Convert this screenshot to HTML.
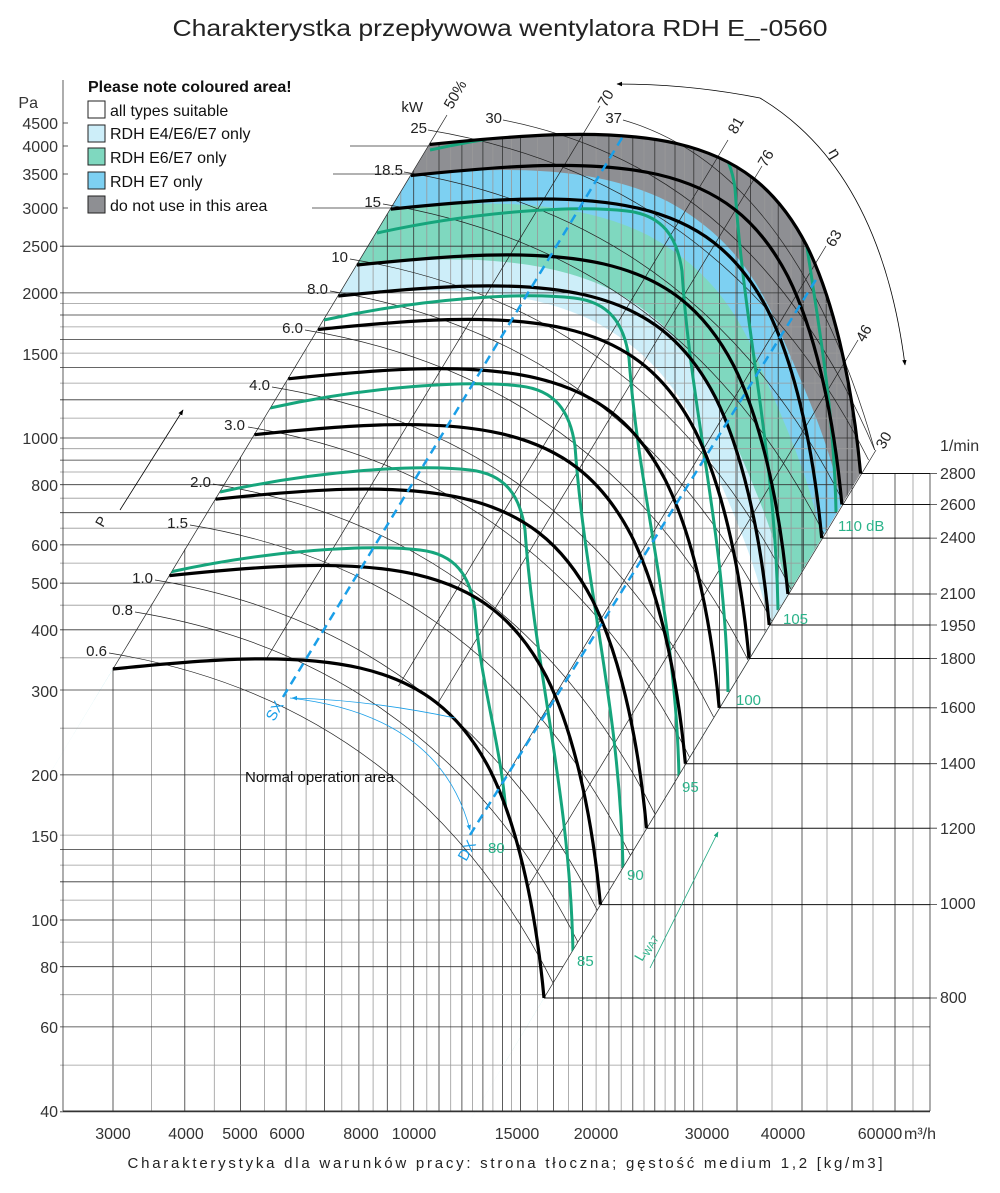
<!DOCTYPE html>
<html><head><meta charset="utf-8">
<style>
html,body{margin:0;padding:0;background:#fff;}
svg{display:block;}
text{font-family:"Liberation Sans",sans-serif;}
.n{font-family:"Liberation Sans Narrow","Liberation Sans",sans-serif;}
</style></head>
<body>
<svg width="1000" height="1193" viewBox="0 0 1000 1193" xmlns="http://www.w3.org/2000/svg">
<defs>
<path id="b" d="M113,669 C200,660 290,652 360,668 C420,682 460,712 490,770 C515,820 535,900 544,998"/>
<path id="f" d="M113,669 C200,660 290,652 360,668 C420,682 460,712 490,770 C515,820 535,900 544,998 L227,1523 L-204,1194 Z"/>
<path id="fb" d="M113,669 C210,659 300,660 370,695 C420,722 455,760 480,820 C505,880 530,930 544,998 L227,1523 L-204,1194 Z"/>
<clipPath id="cc"><path d="M113,669 C200,660 290,652 360,668 C420,682 460,712 490,770 C515,820 535,900 544,998 L860.6,473.5 C851.6,375.5 831.6,295.5 806.6,245.5 C776.6,187.5 736.6,157.5 676.6,143.5 C606.6,127.5 516.6,135.5 429.6,144.5 Z"/></clipPath>
<clipPath id="cv"><path d="M112,1115 L112,669 L429.6,144.5 C516.6,135.5 606.6,127.5 676.6,143.5 C736.6,157.5 776.6,187.5 806.6,245.5 C831.6,295.5 851.6,375.5 860.6,473.5 L940,473.5 L940,1115 Z"/></clipPath>
<clipPath id="ch"><path d="M55,0 L676.6,0 L676.6,143.5 C736.6,157.5 776.6,187.5 806.6,245.5 C831.6,295.5 851.6,375.5 860.6,473.5 L544,998 L930,998 L930,1115 L55,1115 Z"/></clipPath>
<marker id="ab" viewBox="0 0 10 10" refX="9" refY="5" markerWidth="7" markerHeight="7" orient="auto"><path d="M0,1 L10,5 L0,9 z" fill="#000"/></marker>
<marker id="abl" viewBox="0 0 10 10" refX="9" refY="5" markerWidth="7" markerHeight="7" orient="auto"><path d="M0,1 L10,5 L0,9 z" fill="#1a9fe8"/></marker>
<marker id="abg" viewBox="0 0 10 10" refX="9" refY="5" markerWidth="7" markerHeight="7" orient="auto"><path d="M0,1 L10,5 L0,9 z" fill="#1aa67f"/></marker>
</defs>
<rect width="1000" height="1193" fill="#fff"/>

<!-- bands -->
<use href="#f" transform="translate(316.6,-524.5)" fill="#8e8f93"/>
<use href="#fb" transform="translate(297.9,-493.5)" fill="#7dd0f2"/>
<use href="#fb" transform="translate(277.7,-459.9)" fill="#7fd8bf"/>
<use href="#fb" transform="translate(243.9,-404)" fill="#cdeef9"/>
<use href="#fb" transform="translate(225.2,-373)" fill="#fff"/>

<!-- grid verticals (x <= 703 everywhere) -->
<g clip-path="url(#cv)" fill="none" stroke-width="0.8">
<path stroke="#333" d="M113,100V1111M184.8,100V1111M240.6,100V1111M286.1,100V1111M324.6,100V1111M358.9,100V1111M387.3,100V1111M413.7,100V1111M439,100V1111M461.9,100V1111M482.9,100V1111M502.4,100V1111M520.5,100V1111M553.4,100V1111M582.6,100V1111M608.9,100V1111M632.8,100V1111M654.8,100V1111M675,100V1111M693.8,100V1111"/>
<path stroke="#999" d="M151.5,100V1111M214.3,100V1111M264.4,100V1111M306.1,100V1111M341.8,100V1111M373.1,100V1111M400.8,100V1111M426.8,100V1111M450.7,100V1111M472.6,100V1111M492.9,100V1111M511.6,100V1111M537.5,100V1111M568.4,100V1111M596.1,100V1111M621.2,100V1111M644,100V1111M665.1,100V1111M684.5,100V1111M702.7,100V1111"/>
<!-- sparse verticals right side -->
<path stroke="#333" d="M737,100V1111M802,100V1111M852,100V1111M895,100V1111"/>
<path stroke="#999" d="M772,100V1111M827,100V1111M873,100V1111M913,100V1111"/>
</g>
<!-- dense verticals inside chart only for x>703 -->
<g clip-path="url(#cc)" fill="none" stroke-width="0.8">
<path stroke="#333" d="M719.6,100V1111M750.6,100V1111M778.2,100V1111M803.3,100V1111M826.2,100V1111M847.2,100V1111"/>
<path stroke="#999" d="M735.5,100V1111M764.8,100V1111M791.1,100V1111M815,100V1111M836.9,100V1111M857.1,100V1111"/>
</g>
<!-- grid horizontals -->
<g clip-path="url(#ch)" fill="none" stroke-width="0.8">
<path stroke="#333" d="M60,1111.8H930M60,1026.9H930M60,966.7H930M60,920H930M60,881.8H930M60,849.6H930M60,774.9H930M60,690H930M60,629.8H930M60,583.1H930M60,544.9H930M60,512.7H930M60,484.7H930M60,460.1H930M60,438H930M60,399.8H930M60,367.6H930M60,339.6H930M60,315H930M60,292.9H930M60,246.2H930"/>
<path stroke="#999" d="M60,1065.1H930M60,994.7H930M60,942.1H930M60,900.1H930M60,865.1H930M60,835.1H930M60,728.2H930M60,657.8H930M60,605.2H930M60,563.1H930M60,528.2H930M60,498.2H930M60,472H930M60,448.7H930M60,418.1H930M60,383.1H930M60,353.1H930M60,326.9H930M60,303.6H930"/>
</g>
<line x1="63" y1="1111" x2="930" y2="1111" stroke="#333" stroke-width="1"/>
<line x1="930" y1="473.5" x2="930" y2="1111" stroke="#333" stroke-width="0.8"/>
<!-- rpm rows -->
<path fill="none" stroke="#111" stroke-width="1" d="M544,998H930M600.4,904.6H930M646.5,828.2H930M685.4,763.7H930M719.2,707.8H930M749,658.5H930M769.2,625H930M787.9,594H930M821.7,538.1H930M841.9,504.5H930M860.6,473.5H930"/>
<path fill="none" stroke="#333" stroke-width="0.8" d="M930,998H937M930,904.6H937M930,828.2H937M930,763.7H937M930,707.8H937M930,658.5H937M930,625H937M930,594H937M930,538.1H937M930,504.5H937M930,473.5H937"/>

<!-- thin lines: diagonals, eta, kW arcs -->
<g fill="none" stroke="#222" stroke-width="0.7">
<line x1="113" y1="669" x2="447" y2="115"/>
<line x1="544" y1="998" x2="876" y2="450"/>
<line x1="600" y1="106" x2="266.9" y2="658"/>
<line x1="728" y1="140" x2="398.5" y2="686"/>
<line x1="762" y1="166" x2="436.8" y2="705"/>
<line x1="826" y1="246" x2="497.8" y2="790"/>
<line x1="858" y1="340" x2="526.7" y2="889"/>
<path d="M109,653Q411,702.5 553.1,983"/>
<path d="M135,612Q436.1,661.5 577.8,942"/>
<path d="M155,580Q455.6,629.5 597.1,910"/>
<path d="M190,525Q489.4,574.5 630.3,855"/>
<path d="M213,484Q513.6,533.5 655,814"/>
<path d="M248,427Q548.2,476.5 689.4,757"/>
<path d="M272,387Q572.3,436.5 713.6,717"/>
<path d="M305,330Q606.2,379.5 748,660"/>
<path d="M330,291Q630.2,340.5 771.5,621"/>
<path d="M350,259Q649.7,308.5 790.8,589"/>
<path d="M383,204Q682.9,253.5 824,534"/>
<path d="M404,172Q702.7,221.5 843.3,502"/>
<path d="M428,130Q727.6,179.5 868.6,460"/>
<path d="M503,120Q755.8,169.5 874.7,450"/>
<path d="M623,120Q794.2,169.5 874.7,450"/>
</g>

<!-- green dB curves -->
<g fill="none" stroke="#16a57c" stroke-width="3" clip-path="url(#cc)">
<path d="M170,572 c100,-22 200,-28 250,-22 c35,4 50,25 55,60 C481,691 504,751 507,830"/>
<path d="M220,492 c100,-22 200,-28 250,-22 c35,4 50,25 55,60 C535,672 570,793 573,953"/>
<path d="M270,408 c100,-22 200,-28 250,-22 c35,4 50,25 55,60 C585,588 620,708 623,868"/>
<path d="M324,320 c100,-22 200,-28 250,-22 c35,4 50,25 55,60 C639,499 676,619 679,778"/>
<path d="M377,233 c100,-22 200,-28 250,-22 c35,4 50,25 55,60 C691,413 725,532 728,692"/>
<path d="M430,150 c100,-22 200,-28 250,-22 c35,4 50,25 55,60 C744,330 775,450 778,610"/>
<path d="M485,65 c100,-22 200,-28 250,-22 c35,4 50,25 55,60 C799,241 833,357 836,512"/>
</g>

<!-- black speed curves -->
<g fill="none" stroke="#000" stroke-width="3.2">
<use href="#b"/>
<use href="#b" transform="translate(56.4,-93.4)"/>
<use href="#b" transform="translate(102.5,-169.8)"/>
<use href="#b" transform="translate(141.4,-234.3)"/>
<use href="#b" transform="translate(175.2,-290.2)"/>
<use href="#b" transform="translate(205,-339.5)"/>
<use href="#b" transform="translate(225.2,-373)"/>
<use href="#b" transform="translate(243.9,-404)"/>
<use href="#b" transform="translate(277.7,-459.9)"/>
<use href="#b" transform="translate(297.9,-493.5)"/>
<use href="#b" transform="translate(316.6,-524.5)"/>
</g>

<g fill="none" stroke="#1a9fe8" stroke-width="2.5" stroke-dasharray="9,6">
<line x1="283" y1="697" x2="625" y2="133"/>
<line x1="470" y1="835" x2="817" y2="278"/>
</g>
<!-- arrows -->
<path d="M290,698 Q440,715 470,830" fill="none" stroke="#1a9fe8" stroke-width="0.8" marker-end="url(#abl)"/>
<path d="M455,718 Q370,700 292,698" fill="none" stroke="#1a9fe8" stroke-width="0.8" marker-end="url(#abl)"/>
<line x1="120" y1="510" x2="183" y2="410" stroke="#000" stroke-width="0.8" marker-end="url(#ab)"/>
<path d="M760,98 Q880,170 905,365" fill="none" stroke="#000" stroke-width="0.8" marker-end="url(#ab)"/>
<path d="M760,98 Q690,84 617,84" fill="none" stroke="#000" stroke-width="0.8" marker-end="url(#ab)"/>
<line x1="650" y1="968" x2="718" y2="832" stroke="#1aa67f" stroke-width="0.8" marker-end="url(#abg)"/>

<!-- title -->
<text x="500" y="36" font-size="23" text-anchor="middle" textLength="655" lengthAdjust="spacingAndGlyphs" fill="#222">Charakterystka przepływowa wentylatora RDH E_-0560</text>
<text x="505" y="1168" font-size="15" text-anchor="middle" textLength="755" lengthAdjust="spacing" fill="#222">Charakterystyka dla warunków pracy: strona tłoczna; gęstość medium 1,2 [kg/m3]</text>

<!-- legend -->
<g class="n" font-size="16" fill="#111">
<text x="88" y="92" font-weight="bold" class="n">Please note coloured area!</text>
<rect x="88" y="101" width="17" height="17" fill="#fff" stroke="#222"/>
<rect x="88" y="125" width="17" height="17" fill="#cdeef9" stroke="#222"/>
<rect x="88" y="148" width="17" height="17" fill="#7fd8bf" stroke="#222"/>
<rect x="88" y="172" width="17" height="17" fill="#7dd0f2" stroke="#222"/>
<rect x="88" y="196" width="17" height="17" fill="#8e8f93" stroke="#222"/>
<text x="110" y="116" class="n">all types suitable</text>
<text x="110" y="139" class="n">RDH E4/E6/E7 only</text>
<text x="110" y="163" class="n">RDH E6/E7 only</text>
<text x="110" y="187" class="n">RDH E7 only</text>
<text x="110" y="211" class="n">do not use in this area</text>
</g>

<!-- y axis -->
<line x1="63" y1="80" x2="63" y2="1111" stroke="#333" stroke-width="0.8"/>
<g font-size="16" fill="#333" text-anchor="end">
<text x="38" y="108">Pa</text>
<text x="58" y="129">4500</text>
<text x="58" y="152">4000</text>
<text x="58" y="180">3500</text>
<text x="58" y="214">3000</text>
<text x="58" y="252">2500</text>
<text x="58" y="299">2000</text>
<text x="58" y="360">1500</text>
<text x="58" y="444">1000</text>
<text x="58" y="491">800</text>
<text x="58" y="551">600</text>
<text x="58" y="589">500</text>
<text x="58" y="636">400</text>
<text x="58" y="697">300</text>
<text x="58" y="781">200</text>
<text x="58" y="842">150</text>
<text x="58" y="926">100</text>
<text x="58" y="973">80</text>
<text x="58" y="1033">60</text>
<text x="58" y="1117">40</text>
</g>
<g stroke="#333" stroke-width="0.8">
<line x1="63" y1="123" x2="68" y2="123"/><line x1="63" y1="146" x2="68" y2="146"/><line x1="63" y1="174" x2="68" y2="174"/><line x1="63" y1="208" x2="68" y2="208"/>
<line x1="350" y1="146" x2="430" y2="146"/><line x1="333" y1="174" x2="412" y2="174"/><line x1="312" y1="208" x2="391" y2="208"/>
</g>
<!-- x axis -->
<g font-size="16" fill="#333" text-anchor="middle">
<text x="113" y="1139">3000</text>
<text x="186" y="1139">4000</text>
<text x="240" y="1139">5000</text>
<text x="287" y="1139">6000</text>
<text x="361" y="1139">8000</text>
<text x="414" y="1139">10000</text>
<text x="517" y="1139">15000</text>
<text x="596" y="1139">20000</text>
<text x="707" y="1139">30000</text>
<text x="783" y="1139">40000</text>
<text x="880" y="1139">60000</text>
<text x="920" y="1139">m³/h</text>
</g>
<!-- rpm -->
<g font-size="16" fill="#333">
<text x="940" y="451">1/min</text>
<text x="940" y="479">2800</text>
<text x="940" y="510">2600</text>
<text x="940" y="543">2400</text>
<text x="940" y="599">2100</text>
<text x="940" y="631">1950</text>
<text x="940" y="664">1800</text>
<text x="940" y="713">1600</text>
<text x="940" y="769">1400</text>
<text x="940" y="834">1200</text>
<text x="940" y="909">1000</text>
<text x="940" y="1003">800</text>
</g>
<!-- kW labels -->
<g font-size="15" fill="#222" text-anchor="end">
<text x="423" y="112">kW</text>
<text x="107" y="656">0.6</text>
<text x="133" y="615">0.8</text>
<text x="153" y="583">1.0</text>
<text x="188" y="528">1.5</text>
<text x="211" y="487">2.0</text>
<text x="245" y="430">3.0</text>
<text x="270" y="390">4.0</text>
<text x="303" y="333">6.0</text>
<text x="328" y="294">8.0</text>
<text x="348" y="262">10</text>
<text x="381" y="207">15</text>
<text x="403" y="175">18.5</text>
<text x="427" y="133">25</text>
<text x="502" y="123">30</text>
<text x="622" y="123">37</text>
</g>
<!-- efficiency labels -->
<g font-size="15" fill="#222">
<text transform="translate(452,110) rotate(-60)">50%</text>
<text transform="translate(606,108) rotate(-60)">70</text>
<text transform="translate(736,135) rotate(-60)">81</text>
<text transform="translate(766,168) rotate(-60)">76</text>
<text transform="translate(834,248) rotate(-60)">63</text>
<text transform="translate(864,343) rotate(-60)">46</text>
<text transform="translate(884,450) rotate(-60)">30</text>
<text transform="translate(828,152) rotate(60)" font-size="16">η</text>
<text transform="translate(103,528) rotate(-60)" font-size="14">P</text>
</g>
<g font-size="15" fill="#1a9fe8">
<text transform="translate(274,722) rotate(-60)">SX</text>
<text transform="translate(466,862) rotate(-60)">DX</text>
</g>
<g font-size="15" fill="#2bb38a">
<text x="488" y="853">80</text>
<text x="577" y="966">85</text>
<text x="627" y="880">90</text>
<text x="682" y="792">95</text>
<text x="736" y="705">100</text>
<text x="783" y="624">105</text>
<text x="838" y="531">110 dB</text>
<text transform="translate(642,962) rotate(-60)" font-size="14">L<tspan font-size="10" dy="3">WA7</tspan></text>
</g>
<text x="245" y="782" font-size="15" class="n" fill="#111">Normal operation area</text>
</svg>
</body></html>
